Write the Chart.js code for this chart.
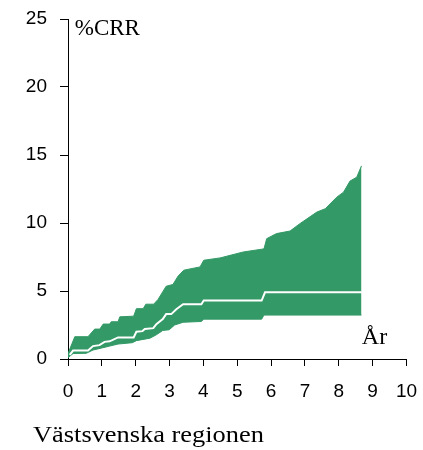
<!DOCTYPE html>
<html>
<head>
<meta charset="utf-8">
<script src="https://cdn.jsdelivr.net/npm/chart.js@4/dist/chart.umd.min.js"></script>
<style>
  body { margin:0; background:#fff; }
  canvas { display:block; }
</style>
</head>
<body>
<canvas id="crr" width="423" height="450"></canvas>
<script>
// ─── %CRR, Västsvenska regionen ─────────────────────────────────────────────
const GREEN = '#339966';

// x ticks (år) and y ticks (%)
const xTicks = [0,1,2,3,4,5,6,7,8,9,10];
const yTicks = [0,5,10,15,20,25];

// upper bound of the band
const upperX = [0,0.2,0.59,0.79,0.94,1.04,1.23,1.28,1.48,1.53,1.94,2.02,2.22,2.3,2.53,2.66,2.9,3.1,3.25,3.42,3.9,4.01,4.49,4.68,5.18,5.72,5.79,5.87,6.16,6.56,6.85,7.35,7.6,7.94,8.14,8.33,8.53,8.67];
const upperY = [0.4,1.64,1.64,2.2,2.2,2.57,2.57,2.74,2.74,3.1,3.15,3.7,3.7,4.03,4.03,4.38,5.35,5.48,6.09,6.53,6.77,7.26,7.43,7.55,7.87,8.07,8.1,8.85,9.22,9.41,9.95,10.8,11.05,11.9,12.27,13.08,13.37,14.2];

// lower bound of the band
const lowerX = [0,0.15,0.54,0.74,1.03,1.23,1.48,1.9,2.02,2.42,2.61,2.8,2.99,3.15,3.4,3.94,4.01,5.72,5.79,8.67];
const lowerY = [0.1,0.4,0.42,0.66,0.83,0.95,1.1,1.2,1.35,1.53,1.78,2.1,2.15,2.5,2.7,2.76,2.93,2.93,3.23,3.23];

// point estimate (white line)
const midX = [0.05,0.15,0.59,0.74,0.93,1.08,1.23,1.48,1.94,2.02,2.2,2.27,2.52,2.61,2.8,2.9,3.05,3.2,3.4,3.94,4.01,5.72,5.82,8.68];
const midY = [0.3,0.62,0.62,0.95,1.02,1.26,1.3,1.59,1.59,2.0,2.05,2.2,2.27,2.56,2.93,3.3,3.3,3.66,4.03,4.03,4.3,4.3,4.9,4.9];

const pts = (xs, ys) => xs.map((x, i) => ({ x, y: ys[i] }));

const textPlugin = {
  id: 'texts',
  afterDraw(chart) {
    const { ctx, scales: { x, y } } = chart;
    ctx.save();
    ctx.fillStyle = '#000';
    ctx.textBaseline = 'alphabetic';
    ctx.textAlign = 'left';
    ctx.font = '23px "Liberation Serif", "Times New Roman", serif';
    ctx.fillText('%CRR', x.getPixelForValue(0.2), y.getPixelForValue(23.8));
    ctx.font = '24px "Liberation Serif", "Times New Roman", serif';
    ctx.fillText('År', x.getPixelForValue(8.68), y.getPixelForValue(1.1));
    ctx.save();
    ctx.translate(33, 442);
    ctx.scale(1.1, 1);
    ctx.fillText('Västsvenska regionen', 0, 0);
    ctx.restore();
    ctx.restore();
  }
};

const noPad = s => { s.paddingLeft = 0; s.paddingRight = 0; s.paddingTop = 0; s.paddingBottom = 0; };

new Chart(document.getElementById('crr'), {
  type: 'line',
  data: {
    datasets: [
      { data: pts(lowerX, lowerY), borderColor: GREEN, borderWidth: 1, pointRadius: 0, fill: false, order: 2 },
      { data: pts(upperX, upperY), borderColor: GREEN, borderWidth: 1, pointRadius: 0, backgroundColor: GREEN, fill: '-1', order: 1 },
      { data: pts(midX, midY), borderColor: '#fff', borderWidth: 2, pointRadius: 0, fill: false, order: 0 }
    ]
  },
  options: {
    responsive: false,
    animation: false,
    layout: { padding: { top: 19, right: 16.5, left: 0, bottom: 0 } },
    plugins: { legend: { display: false }, tooltip: { enabled: false } },
    elements: { line: { tension: 0 } },
    scales: {
      x: {
        type: 'linear', min: 0, max: 10,
        afterBuildTicks: s => { s.ticks = xTicks.map(v => ({ value: v })); },
        afterFit: s => { s.height = 91; noPad(s); },
        grid: { drawOnChartArea: false, drawTicks: true, tickLength: 7, color: '#000' },
        border: { display: true, color: '#000', width: 1 },
        ticks: { color: '#000', padding: 14, maxRotation: 0, font: { family: '"Liberation Sans", Arial, sans-serif', size: 19 } }
      },
      y: {
        type: 'linear', min: 0, max: 25,
        afterBuildTicks: s => { s.ticks = yTicks.map(v => ({ value: v })); },
        afterFit: s => { s.width = 68; noPad(s); },
        grid: { drawOnChartArea: false, drawTicks: true, tickLength: 8, color: '#000' },
        border: { display: true, color: '#000', width: 1 },
        ticks: { color: '#000', padding: 13, font: { family: '"Liberation Sans", Arial, sans-serif', size: 19 } }
      }
    }
  },
  plugins: [textPlugin]
});
</script>
</body>
</html>
